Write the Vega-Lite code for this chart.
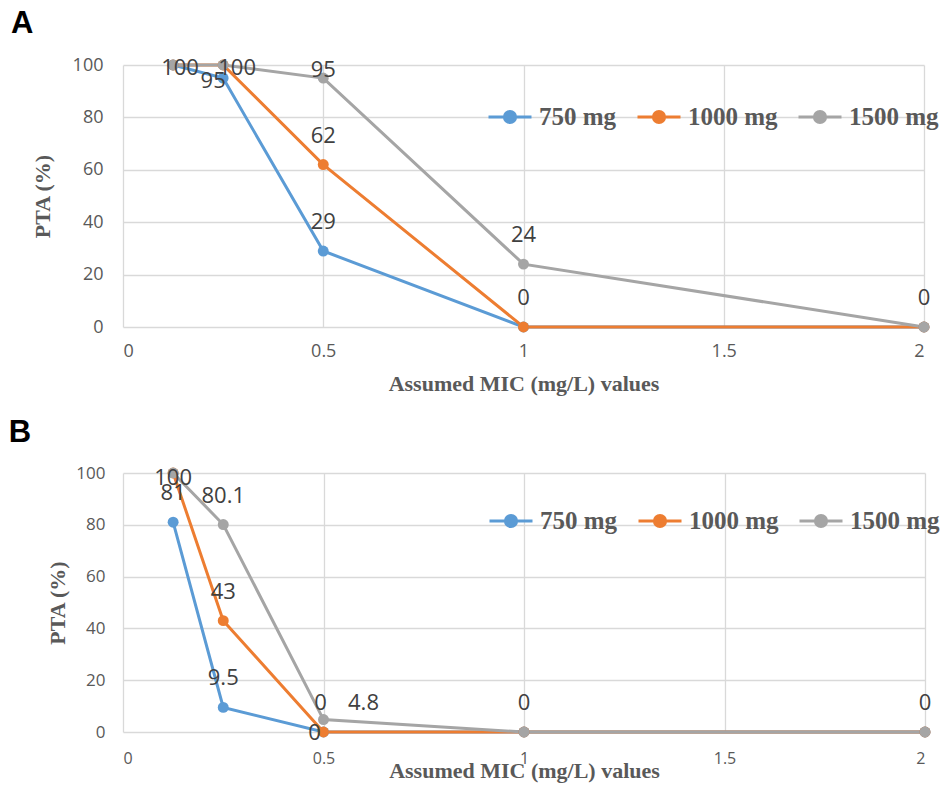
{
  "$schema": "https://vega.github.io/schema/vega-lite/v6.json",
  "background": "white",
  "padding": {"left": 8, "top": 8, "right": 5, "bottom": 5},
  "spacing": 23,
  "datasets": {
    "a": [
      {"series": "750 mg", "mic": 0.125, "pta": 100},
      {"series": "750 mg", "mic": 0.25, "pta": 95},
      {"series": "750 mg", "mic": 0.5, "pta": 29},
      {"series": "750 mg", "mic": 1, "pta": 0},
      {"series": "750 mg", "mic": 2, "pta": 0},
      {"series": "1000 mg", "mic": 0.125, "pta": 100},
      {"series": "1000 mg", "mic": 0.25, "pta": 100},
      {"series": "1000 mg", "mic": 0.5, "pta": 62},
      {"series": "1000 mg", "mic": 1, "pta": 0},
      {"series": "1000 mg", "mic": 2, "pta": 0},
      {"series": "1500 mg", "mic": 0.125, "pta": 100},
      {"series": "1500 mg", "mic": 0.25, "pta": 100},
      {"series": "1500 mg", "mic": 0.5, "pta": 95},
      {"series": "1500 mg", "mic": 1, "pta": 24},
      {"series": "1500 mg", "mic": 2, "pta": 0}
    ],
    "b": [
      {"series": "750 mg", "mic": 0.125, "pta": 81},
      {"series": "750 mg", "mic": 0.25, "pta": 9.5},
      {"series": "750 mg", "mic": 0.5, "pta": 0},
      {"series": "750 mg", "mic": 1, "pta": 0},
      {"series": "750 mg", "mic": 2, "pta": 0},
      {"series": "1000 mg", "mic": 0.125, "pta": 100},
      {"series": "1000 mg", "mic": 0.25, "pta": 43},
      {"series": "1000 mg", "mic": 0.5, "pta": 0},
      {"series": "1000 mg", "mic": 1, "pta": 0},
      {"series": "1000 mg", "mic": 2, "pta": 0},
      {"series": "1500 mg", "mic": 0.125, "pta": 100},
      {"series": "1500 mg", "mic": 0.25, "pta": 80.1},
      {"series": "1500 mg", "mic": 0.5, "pta": 4.8},
      {"series": "1500 mg", "mic": 1, "pta": 0},
      {"series": "1500 mg", "mic": 2, "pta": 0}
    ]
  },
  "config": {
    "view": {"stroke": null},
    "axis": {
      "grid": true, "gridColor": "#d9d9d9", "gridWidth": 1.3, "domain": false, "ticks": false,
      "labelFont": "Open Sans", "labelColor": "#595959", "labelFontSize": 18,
      "titleFont": "Liberation Serif", "titleFontWeight": "bold", "titleColor": "#595959", "titleFontSize": 22
    },
    "text": {"font": "Open Sans", "fontSize": 22, "color": "#404040", "baseline": "middle", "align": "center"},
    "title": {"font": "Liberation Sans", "fontSize": 31, "fontWeight": "bold", "color": "#000000", "anchor": "start", "frame": "bounds"}
  },
  "resolve": {"legend": {"color": "independent"}},
  "vconcat": [
    {
      "title": {"text": "A", "dx": -20, "offset": 16},
      "width": 801,
      "height": 262,
      "data": {"name": "a"},
      "encoding": {
        "x": {"field": "mic", "type": "quantitative", "scale": {"domain": [0, 2], "nice": false},
          "axis": {"values": [0, 0.5, 1, 1.5, 2], "format": "~g", "title": "Assumed MIC (mg/L) values", "labelPadding": 15, "titlePadding": 13}},
        "y": {"field": "pta", "type": "quantitative", "scale": {"domain": [0, 100], "nice": false},
          "axis": {"values": [0, 20, 40, 60, 80, 100], "title": "PTA (%)", "labelPadding": 20, "titlePadding": 18}}
      },
      "layer": [
        {
          "mark": {"type": "line", "strokeWidth": 3},
          "encoding": {
            "color": {"field": "series", "type": "nominal",
              "scale": {"domain": ["750 mg", "1000 mg", "1500 mg"], "range": ["#5B9BD5", "#ED7D31", "#A5A5A5"]},
              "legend": {"orient": "none", "legendX": 364, "legendY": 29, "direction": "horizontal", "title": null,
                "symbolType": "M-1,0L1,0M-0.26,0A0.26,0.26,0,1,1,0.26,0A0.26,0.26,0,1,1,-0.26,0Z",
                "symbolSize": 1849, "symbolStrokeWidth": 3,
                "labelFont": "Liberation Serif", "labelFontWeight": "bold", "labelFontSize": 25, "labelColor": "#595959",
                "labelOffset": 6, "columnPadding": 14,
                "encode": {"symbols": {"update": {"fill": {"scale": "color", "field": "value"}, "stroke": {"scale": "color", "field": "value"}}}}}}
          }
        },
        {
          "mark": {"type": "circle", "size": 120, "opacity": 1},
          "encoding": {"color": {"field": "series", "type": "nominal", "legend": null}}
        },
        {
          "transform": [{"filter": "(datum.series=='750 mg' && datum.mic==0.5) || (datum.series=='1000 mg' && (datum.mic==0.5 || datum.mic==1)) || (datum.series=='1500 mg' && (datum.mic==1 || datum.mic==2))"}],
          "mark": {"type": "text", "dy": -29},
          "encoding": {"text": {"field": "pta", "type": "nominal"}}
        },
        {
          "transform": [{"filter": "datum.series=='750 mg' && datum.mic==0.125"}],
          "mark": {"type": "text", "dx": 7, "dy": 3},
          "encoding": {"text": {"field": "pta", "type": "nominal"}}
        },
        {
          "transform": [{"filter": "datum.series=='1000 mg' && datum.mic==0.25"}],
          "mark": {"type": "text", "dx": 14, "dy": 3},
          "encoding": {"text": {"field": "pta", "type": "nominal"}}
        },
        {
          "transform": [{"filter": "datum.series=='750 mg' && datum.mic==0.25"}],
          "mark": {"type": "text", "dx": -10, "dy": 3},
          "encoding": {"text": {"field": "pta", "type": "nominal"}}
        },
        {
          "transform": [{"filter": "datum.series=='1500 mg' && datum.mic==0.5"}],
          "mark": {"type": "text", "dy": -8},
          "encoding": {"text": {"field": "pta", "type": "nominal"}}
        }
      ]
    },
    {
      "title": {"text": "B", "dx": -38, "offset": 15},
      "width": 802,
      "height": 259,
      "data": {"name": "b"},
      "encoding": {
        "x": {"field": "mic", "type": "quantitative", "scale": {"domain": [0, 2], "nice": false},
          "axis": {"values": [0, 0.5, 1, 1.5, 2], "format": "~g", "title": "Assumed MIC (mg/L) values", "labelFontSize": 16, "labelPadding": 18, "titlePadding": -6}},
        "y": {"field": "pta", "type": "quantitative", "scale": {"domain": [0, 100], "nice": false},
          "axis": {"values": [0, 20, 40, 60, 80, 100], "title": "PTA (%)", "labelFontSize": 17, "labelPadding": 18, "titlePadding": 6}}
      },
      "layer": [
        {
          "mark": {"type": "line", "strokeWidth": 3},
          "encoding": {
            "color": {"field": "series", "type": "nominal",
              "scale": {"domain": ["750 mg", "1000 mg", "1500 mg"], "range": ["#5B9BD5", "#ED7D31", "#A5A5A5"]},
              "legend": {"orient": "none", "legendX": 365, "legendY": 25, "direction": "horizontal", "title": null,
                "symbolType": "M-1,0L1,0M-0.26,0A0.26,0.26,0,1,1,0.26,0A0.26,0.26,0,1,1,-0.26,0Z",
                "symbolSize": 1849, "symbolStrokeWidth": 3,
                "labelFont": "Liberation Serif", "labelFontWeight": "bold", "labelFontSize": 25, "labelColor": "#595959",
                "labelOffset": 6, "columnPadding": 14,
                "encode": {"symbols": {"update": {"fill": {"scale": "color", "field": "value"}, "stroke": {"scale": "color", "field": "value"}}}}}}
          }
        },
        {
          "mark": {"type": "circle", "size": 120, "opacity": 1},
          "encoding": {"color": {"field": "series", "type": "nominal", "legend": null}}
        },
        {
          "transform": [{"filter": "(datum.series=='750 mg' && (datum.mic==0.125 || datum.mic==0.25)) || (datum.series=='1000 mg' && datum.mic==0.25) || (datum.series=='1500 mg' && (datum.mic==0.25 || datum.mic==1 || datum.mic==2))"}],
          "mark": {"type": "text", "dy": -29},
          "encoding": {"text": {"field": "pta", "type": "nominal"}}
        },
        {
          "transform": [{"filter": "datum.series=='1000 mg' && datum.mic==0.125"}],
          "mark": {"type": "text", "dy": 5},
          "encoding": {"text": {"field": "pta", "type": "nominal"}}
        },
        {
          "transform": [{"filter": "datum.series=='750 mg' && datum.mic==0.5"}],
          "mark": {"type": "text", "dx": -9, "dy": 1},
          "encoding": {"text": {"field": "pta", "type": "nominal"}}
        },
        {
          "transform": [{"filter": "datum.series=='1000 mg' && datum.mic==0.5"}],
          "mark": {"type": "text", "dx": -3, "dy": -29},
          "encoding": {"text": {"field": "pta", "type": "nominal"}}
        },
        {
          "transform": [{"filter": "datum.series=='1500 mg' && datum.mic==0.5"}],
          "mark": {"type": "text", "dx": 40, "dy": -17},
          "encoding": {"text": {"field": "pta", "type": "nominal"}}
        }
      ]
    }
  ]
}
